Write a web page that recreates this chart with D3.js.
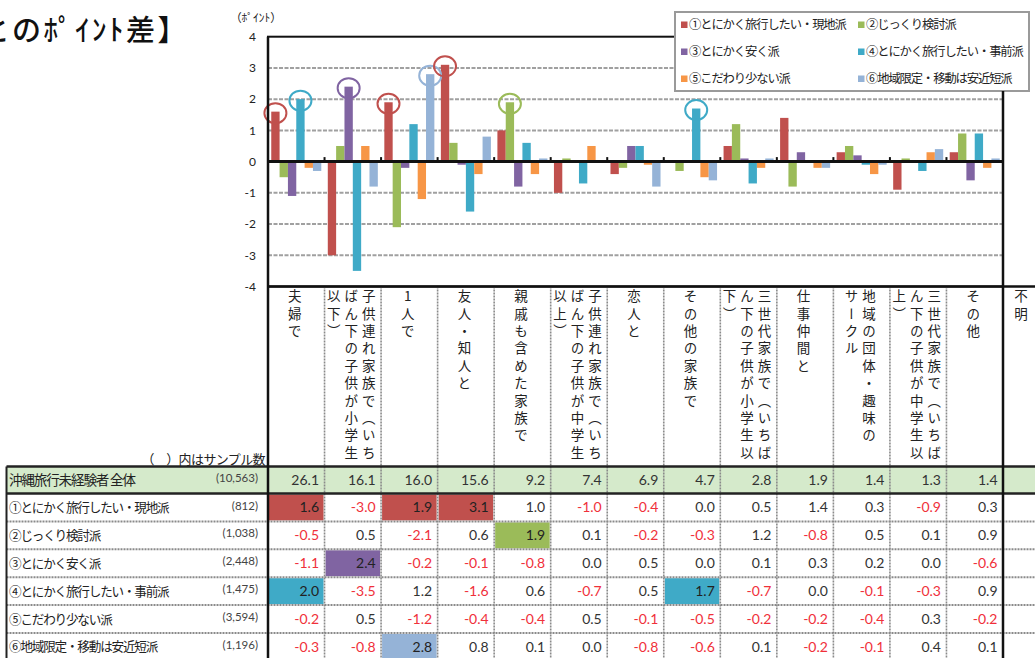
<!DOCTYPE html>
<html>
<head>
<meta charset="utf-8">
<script src="https://cdn.jsdelivr.net/npm/d3@7"></script>
<style>
  html, body { margin: 0; padding: 0; background: #fff; overflow: hidden; }
  svg { display: block; }
  .vtext { writing-mode: vertical-rl; text-orientation: upright; }
</style>
</head>
<body>
<svg id="chart" width="1035" height="658"></svg>
<script>
// ---- data ----
const categories = [
  "夫婦で",
  "子供連れ家族で（いちばん下の子供が小学生以下）",
  "1人で",
  "友人・知人と",
  "親戚も含めた家族で",
  "子供連れ家族で（いちばん下の子供が中学生以上）",
  "恋人と",
  "その他の家族で",
  "三世代家族で（いちばん下の子供が小学生以下）",
  "仕事仲間と",
  "地域の団体・趣味のサークル",
  "三世代家族で（いちばん下の子供が中学生以上）",
  "その他"
];
// header text split into vertical columns (right to left)
const headerColumns = [
  ["夫婦で"],
  ["子供連れ家族で（いち", "ばん下の子供が小学生", "以下）"],
  ["1人で"],
  ["友人・知人と"],
  ["親戚も含めた家族で"],
  ["子供連れ家族で（いち", "ばん下の子供が中学生", "以上）"],
  ["恋人と"],
  ["その他の家族で"],
  ["三世代家族で（いちば", "ん下の子供が小学生以", "下）"],
  ["仕事仲間と"],
  ["地域の団体・趣味の", "サークル"],
  ["三世代家族で（いちば", "ん下の子供が中学生以", "上）"],
  ["その他"]
];
const extraColumn = "不明";

const seriesNames = [
  "①とにかく旅行したい・現地派",
  "②じっくり検討派",
  "③とにかく安く派",
  "④とにかく旅行したい・事前派",
  "⑤こだわり少ない派",
  "⑥地域限定・移動は安近短派"
];
const sampleSizes = ["(812)", "(1,038)", "(2,448)", "(1,475)", "(3,594)", "(1,196)"];
const seriesColors = ["#C0504D", "#9BBB59", "#8064A2", "#3FAAC7", "#F79646", "#95B3D7"];

const totalLabel = "沖縄旅行未経験者 全体";
const totalSample = "(10,563)";
const totalShares = [26.1, 16.1, 16.0, 15.6, 9.2, 7.4, 6.9, 4.7, 2.8, 1.9, 1.4, 1.3, 1.4];

const series1 = [1.6, -3.0, 1.9, 3.1, 1.0, -1.0, -0.4, 0.0, 0.5, 1.4, 0.3, -0.9, 0.3];
const series2 = [-0.5, 0.5, -2.1, 0.6, 1.9, 0.1, -0.2, -0.3, 1.2, -0.8, 0.5, 0.1, 0.9];
const series3 = [-1.1, 2.4, -0.2, -0.1, -0.8, 0.0, 0.5, 0.0, 0.1, 0.3, 0.2, 0.0, -0.6];
const series4 = [2.0, -3.5, 1.2, -1.6, 0.6, -0.7, 0.5, 1.7, -0.7, 0.0, -0.1, -0.3, 0.9];
const series5 = [-0.2, 0.5, -1.2, -0.4, -0.4, 0.5, -0.1, -0.5, -0.2, -0.2, -0.4, 0.3, -0.2];
const series6 = [-0.3, -0.8, 2.8, 0.8, 0.1, 0.0, -0.8, -0.6, 0.1, -0.2, -0.1, 0.4, 0.1];
const seriesValues = [series1, series2, series3, series4, series5, series6];

// [series index, category index] of the top segment in each column
const highlights = [[0, 0], [3, 0], [2, 1], [0, 2], [5, 2], [0, 3], [1, 4], [3, 7]];

const yTicks = [4, 3, 2, 1, 0, -1, -2, -3, -4];
const titleText = "とのﾎﾟｲﾝﾄ差】";
const unitText = "（ﾎﾟｲﾝﾄ）";
const sampleNote = "（　）内はサンプル数";

// ---- layout ----
const JP = "'Noto Sans CJK JP', 'Noto Sans', sans-serif";
const NUM = "Lato, 'Open Sans', sans-serif";
const svg = d3.select("#chart");
const W = 1035, H = 658;

const plotLeft = 268, plotRight = 1003, plotTop = 36.7, plotBottom = 286.5;
const x = d3.scaleBand().domain(d3.range(categories.length))
  .range([plotLeft, plotRight]).paddingInner(0.115).paddingOuter(0.0575);
const xs = d3.scaleBand().domain(d3.range(seriesValues.length)).range([0, x.bandwidth()]);
const y = d3.scaleLinear().domain([-4, 4]).range([plotBottom, plotTop]);
const step = x.step();
const colLeft = i => plotLeft + i * step;

// title (runs past the left edge of the page) and unit
svg.append("text").attr("x", 189).attr("y", 41).attr("text-anchor", "end")
  .attr("font-family", JP).attr("font-size", 29).attr("font-weight", 500)
  .attr("letter-spacing", 2.5).attr("fill", "#111").text(titleText);
svg.append("text").attr("x", 256).attr("y", 22).attr("text-anchor", "middle")
  .attr("font-family", JP).attr("font-size", 11.5).attr("fill", "#222").text(unitText);

// gridlines
const g = svg.append("g");
g.selectAll("line.grid").data(yTicks.filter(t => t !== 0 && Math.abs(t) !== 4)).join("line")
  .attr("x1", plotLeft).attr("x2", plotRight)
  .attr("y1", d => y(d)).attr("y2", d => y(d))
  .attr("stroke", "#a0a0a0").attr("stroke-width", 2).attr("stroke-dasharray", "4,1.5");

// y axis labels
const yAxis = d3.axisLeft(y).tickValues(yTicks).tickSize(0).tickPadding(0)
  .tickFormat(d => String(d));
const ya = svg.append("g").attr("transform", `translate(${plotLeft - 12},0)`).call(yAxis);
ya.select(".domain").remove();
ya.selectAll("text").attr("font-family", NUM).attr("font-size", 12).attr("fill", "#222");

// bars
const bars = svg.append("g");
seriesValues.forEach((vals, s) => {
  bars.selectAll(null).data(vals).join("rect")
    .attr("x", (d, i) => x(i) + xs(s))
    .attr("width", xs.bandwidth())
    .attr("y", d => y(Math.max(0, d)))
    .attr("height", d => Math.abs(y(d) - y(0)))
    .attr("fill", seriesColors[s]);
});

// zero line and category ticks
svg.append("line").attr("x1", plotLeft).attr("x2", plotRight)
  .attr("y1", y(0)).attr("y2", y(0)).attr("stroke", "#111").attr("stroke-width", 3);
svg.selectAll("line.ctick").data(d3.range(1, categories.length)).join("line")
  .attr("x1", i => colLeft(i)).attr("x2", i => colLeft(i))
  .attr("y1", y(0) - 4.5).attr("y2", y(0))
  .attr("stroke", "#111").attr("stroke-width", 2);

// highlight circles
svg.selectAll("ellipse.hl").data(highlights).join("ellipse")
  .attr("cx", d => x(d[1]) + xs(d[0]) + xs.bandwidth() / 2)
  .attr("cy", d => y(seriesValues[d[0]][d[1]]) + 1.5)
  .attr("rx", 11).attr("ry", 10)
  .attr("fill", "none").attr("stroke", d => seriesColors[d[0]]).attr("stroke-width", 2);

// plot frame
svg.append("rect").attr("x", plotLeft).attr("y", plotTop)
  .attr("width", plotRight - plotLeft).attr("height", plotBottom - plotTop)
  .attr("fill", "none").attr("stroke", "#111").attr("stroke-width", 2);

// legend
const lg = svg.append("g");
lg.append("rect").attr("x", 675).attr("y", 12).attr("width", 354).attr("height", 79)
  .attr("fill", "#fff").attr("stroke", "#9a9a9a").attr("stroke-width", 2);
seriesNames.forEach((name, s) => {
  const col = s % 2, row = Math.floor(s / 2);
  const lx = col === 0 ? 681 : 858, ly = 25 + row * 27;
  lg.append("rect").attr("x", lx).attr("y", ly - 3.5).attr("width", 6.5).attr("height", 6.5)
    .attr("fill", seriesColors[s]);
  lg.append("text").attr("x", lx + 8).attr("y", ly).attr("dy", "0.36em")
    .attr("font-family", JP).attr("font-size", 12.3).attr("letter-spacing", -1.1)
    .attr("fill", "#222").text(name);
});

// ---- table ----
const t = svg.append("g");
const headTop = plotBottom, totalTop = 466.5, rowH = 27.9;
const rowTop = r => totalTop + 27 + r * rowH;  // r = 0..5 series rows
const tableLeft = 6.5;

// header vertical text, one text element per written column
const vSize = 13.5, vStep = 17.4;
const vColumn = (str, cx) => {
  t.append("text").attr("class", "vtext").attr("x", cx).attr("y", 296 - vSize / 2)
    .attr("font-family", JP).attr("font-size", vSize)
    .attr("letter-spacing", vStep - vSize).attr("fill", "#222").text(str);
};
headerColumns.forEach((cols, i) => {
  const cx = colLeft(i) + step / 2 - 1.5;
  const n = cols.length;
  cols.forEach((str, j) => vColumn(str, cx + ((n - 1) / 2 - j) * 17.5));
});
vColumn(extraColumn, 1021);

t.append("text").attr("x", 265).attr("y", 459).attr("dy", "0.36em").attr("text-anchor", "end")
  .attr("font-family", JP).attr("font-size", 13).attr("letter-spacing", -0.6)
  .attr("fill", "#222").text(sampleNote);

// total row background
t.append("rect").attr("x", tableLeft).attr("y", totalTop).attr("width", W - tableLeft)
  .attr("height", 27).attr("fill", "#D5EACB");

// highlighted cells
t.selectAll("rect.hc").data(highlights).join("rect")
  .attr("x", d => colLeft(d[1]) + 1).attr("y", d => rowTop(d[0]) + 1)
  .attr("width", step - 2).attr("height", rowH - 2)
  .attr("fill", d => seriesColors[d[0]]);

// horizontal row lines
d3.range(1, 6).forEach(r => {
  t.append("line").attr("x1", tableLeft).attr("x2", W).attr("y1", rowTop(r)).attr("y2", rowTop(r))
    .attr("stroke", "#8a8a8a").attr("stroke-width", 2).attr("stroke-dasharray", "2,1");
});
// vertical column lines
d3.range(1, categories.length).forEach(i => {
  t.append("line").attr("x1", colLeft(i)).attr("x2", colLeft(i)).attr("y1", headTop).attr("y2", H)
    .attr("stroke", "#8a8a8a").attr("stroke-width", 1.6).attr("stroke-dasharray", "2,1");
});
// heavy frame lines
t.append("line").attr("x1", tableLeft).attr("x2", W).attr("y1", totalTop).attr("y2", totalTop)
  .attr("stroke", "#222").attr("stroke-width", 2.5);
t.append("line").attr("x1", tableLeft).attr("x2", W).attr("y1", totalTop + 27).attr("y2", totalTop + 27)
  .attr("stroke", "#222").attr("stroke-width", 2.5);
t.append("line").attr("x1", plotLeft).attr("x2", W).attr("y1", headTop).attr("y2", headTop)
  .attr("stroke", "#111").attr("stroke-width", 2.5);
t.append("line").attr("x1", tableLeft).attr("x2", tableLeft).attr("y1", totalTop).attr("y2", H)
  .attr("stroke", "#222").attr("stroke-width", 2);
t.append("line").attr("x1", plotLeft).attr("x2", plotLeft).attr("y1", plotTop).attr("y2", H)
  .attr("stroke", "#111").attr("stroke-width", 2.5);
t.append("line").attr("x1", plotRight).attr("x2", plotRight).attr("y1", 91).attr("y2", H)
  .attr("stroke", "#111").attr("stroke-width", 2.5);

// row labels
const rowLabel = (label, sample, yc, size, spacing) => {
  t.append("text").attr("x", 9).attr("y", yc).attr("dy", "0.36em")
    .attr("font-family", JP).attr("font-size", size).attr("letter-spacing", spacing)
    .attr("fill", "#222").text(label);
  t.append("text").attr("x", 258).attr("y", yc - 2).attr("dy", "0.36em").attr("text-anchor", "end")
    .attr("font-family", NUM).attr("font-size", 11.5).attr("fill", "#444").text(sample);
};
rowLabel(totalLabel, totalSample, totalTop + 13.5, 13.5, -1.1);
seriesNames.forEach((name, s) => rowLabel(name, sampleSizes[s], rowTop(s) + rowH / 2, 12.6, -1.2));

// cell values
const cellText = (v, i, yc, color) => {
  t.append("text").attr("x", colLeft(i + 1) - 5.5).attr("y", yc).attr("dy", "0.36em")
    .attr("text-anchor", "end").attr("font-family", NUM).attr("font-size", 14)
    .attr("fill", color).text(v.toFixed(1));
};
totalShares.forEach((v, i) => cellText(v, i, totalTop + 13.5, "#333"));
const isHL = (s, i) => highlights.some(h => h[0] === s && h[1] === i);
seriesValues.forEach((vals, s) => {
  vals.forEach((v, i) => {
    const col = isHL(s, i) ? "#222" : (v < 0 ? "#F0303A" : "#333");
    cellText(v, i, rowTop(s) + rowH / 2, col);
  });
});
</script>
</body>
</html>
